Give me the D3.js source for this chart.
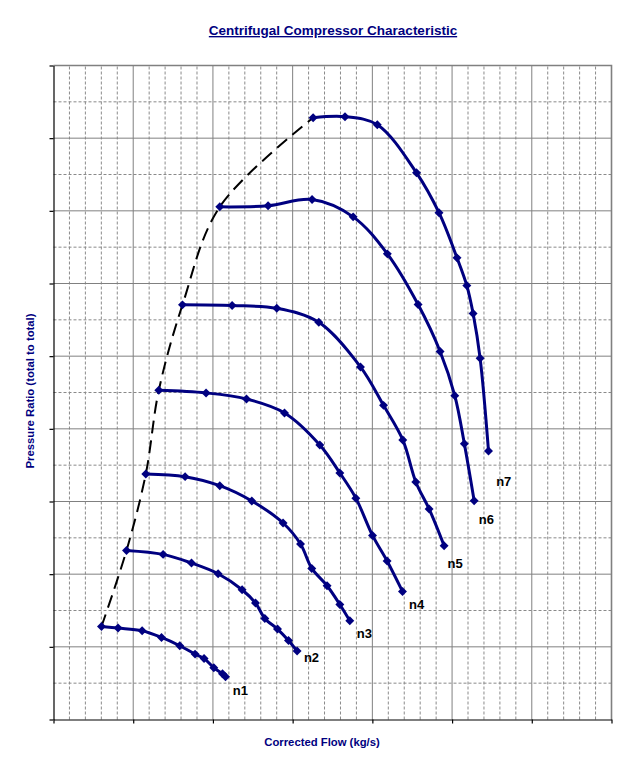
<!DOCTYPE html>
<html>
<head>
<meta charset="utf-8">
<script src="https://cdnjs.cloudflare.com/ajax/libs/d3/7.8.5/d3.min.js"></script>
<style>
  body { margin: 0; background: #fff; }
  text { font-family: Arial, "Liberation Sans", sans-serif; }
</style>
</head>
<body>
<div id="chart"></div>
<script>

// speed lines, flow (kg/s) and pressure ratio
var speedNames = ["n1", "n2", "n3", "n4", "n5", "n6", "n7"];

var n1Flow  = [0.602, 0.810, 1.112, 1.355, 1.584, 1.776, 1.889, 2.011, 2.120, 2.158];
var n1Ratio = [1.280, 1.258, 1.221, 1.129, 1.015, 0.900, 0.840, 0.712, 0.629, 0.588];

var n2Flow  = [0.916, 1.375, 1.731, 2.065, 2.366, 2.534, 2.651, 2.810, 2.948, 3.056];
var n2Ratio = [2.327, 2.272, 2.153, 2.006, 1.786, 1.603, 1.391, 1.245, 1.088, 0.942];

var n3Flow  = [1.158, 1.651, 2.086, 2.488, 2.880, 3.099, 3.240, 3.432, 3.592, 3.717];
var n3Ratio = [3.379, 3.342, 3.218, 3.007, 2.704, 2.415, 2.079, 1.841, 1.583, 1.359];

var n4Flow  = [1.321, 1.914, 2.421, 2.898, 3.341, 3.592, 3.793, 4.002, 4.185, 4.378];
var n4Ratio = [4.530, 4.494, 4.411, 4.219, 3.778, 3.393, 3.046, 2.533, 2.181, 1.762];

var n5Flow  = [1.618, 2.241, 2.801, 3.328, 3.851, 4.140, 4.382, 4.545, 4.712, 4.900];
var n5Ratio = [5.706, 5.696, 5.659, 5.466, 4.852, 4.323, 3.847, 3.269, 2.897, 2.392];

var n6Flow  = [2.086, 2.692, 3.244, 3.759, 4.188, 4.574, 4.850, 5.034, 5.154, 5.277];
var n6Ratio = [7.055, 7.069, 7.155, 6.917, 6.408, 5.710, 5.065, 4.457, 3.796, 3.011];

var n7Flow  = [3.257, 3.657, 4.062, 4.554, 4.836, 5.062, 5.185, 5.264, 5.352, 5.457];
var n7Ratio = [8.280, 8.295, 8.185, 7.523, 6.974, 6.353, 5.971, 5.586, 4.970, 3.695];

// where the n-labels sit (flow, ratio)
var labelFlow  = [2.249, 3.141, 3.805, 4.461, 4.943, 5.336, 5.553];
var labelRatio = [0.409, 0.863, 1.194, 1.593, 2.153, 2.759, 3.287];

var xDomain = [0, 7];
var yDomain = [0, 9];

var W = 630, H = 766;
var margin = {top: 65.5, right: 18.5, bottom: 46.5, left: 53.5};
var navy = "#000080";

var flows = [n1Flow, n2Flow, n3Flow, n4Flow, n5Flow, n6Flow, n7Flow];
var ratios = [n1Ratio, n2Ratio, n3Ratio, n4Ratio, n5Ratio, n6Ratio, n7Ratio];

var series = speedNames.map(function(name, i) {
    return {
        name: name,
        points: flows[i].map(function(f, j) { return {flow: f, ratio: ratios[i][j]}; }),
        label: {flow: labelFlow[i], ratio: labelRatio[i]}
    };
});

// surge line joins the first point of every speed line
var surge = series.map(function(s) { return s.points[0]; });

var svg = d3.select("#chart").append("svg")
    .attr("width", W)
    .attr("height", H);

var x = d3.scaleLinear()
    .domain(xDomain)
    .range([margin.left, W - margin.right]);

var y = d3.scaleLinear()
    .domain(yDomain)
    .range([H - margin.bottom, margin.top]);

// title
svg.append("text")
    .attr("x", 333)
    .attr("y", 35)
    .attr("text-anchor", "middle")
    .style("font-size", "13.5px")
    .style("font-weight", "bold")
    .style("text-decoration", "underline")
    .attr("fill", navy)
    .text("Centrifugal Compressor Characteristic ");

// grid
var grid = svg.append("g");
var xMinor = d3.range(xDomain[0], xDomain[1] + 0.001, 0.2).filter(function(v) { return Math.abs(v - Math.round(v)) > 0.01; });
var xMajor = d3.range(xDomain[0] + 1, xDomain[1], 1);
var yMinor = d3.range(yDomain[0] + 0.5, yDomain[1], 1);
var yMajor = d3.range(yDomain[0] + 1, yDomain[1], 1);

grid.selectAll(".vminor").data(xMinor).enter().append("line")
    .attr("x1", x).attr("x2", x)
    .attr("y1", y(yDomain[0])).attr("y2", y(yDomain[1]))
    .attr("stroke", "#8a8a8a").attr("stroke-dasharray", "3,2");

grid.selectAll(".hminor").data(yMinor).enter().append("line")
    .attr("x1", x(xDomain[0])).attr("x2", x(xDomain[1]))
    .attr("y1", y).attr("y2", y)
    .attr("stroke", "#8a8a8a").attr("stroke-dasharray", "3,2");

grid.selectAll(".vmajor").data(xMajor).enter().append("line")
    .attr("x1", x).attr("x2", x)
    .attr("y1", y(yDomain[0])).attr("y2", y(yDomain[1]))
    .attr("stroke", "#808080");

grid.selectAll(".hmajor").data(yMajor).enter().append("line")
    .attr("x1", x(xDomain[0])).attr("x2", x(xDomain[1]))
    .attr("y1", y).attr("y2", y)
    .attr("stroke", "#808080");

// plot area border (top, right)
grid.append("path")
    .attr("d", "M" + x(xDomain[0]) + "," + y(yDomain[1]) + "H" + x(xDomain[1]) + "V" + y(yDomain[0]))
    .attr("fill", "none")
    .attr("stroke", "#808080")
    .attr("stroke-width", 1.6);

// axes, no tick labels
var xAxis = svg.append("g")
    .attr("transform", "translate(0," + y(yDomain[0]) + ")")
    .call(d3.axisBottom(x).tickValues(d3.range(xDomain[0], xDomain[1] + 1, 1)).tickSize(4).tickSizeOuter(0).tickFormat(""));

var yAxis = svg.append("g")
    .attr("transform", "translate(" + x(xDomain[0]) + ",0)")
    .call(d3.axisLeft(y).tickValues(d3.range(yDomain[0], yDomain[1] + 1, 1)).tickSize(4).tickSizeOuter(0).tickFormat(""));

svg.selectAll(".domain, .tick line").attr("stroke", "#000").attr("stroke-width", 1.2);

svg.append("text")
    .attr("transform", "translate(34,391) rotate(-90)")
    .attr("text-anchor", "middle")
    .style("font-size", "11.3px")
    .style("font-weight", "bold")
    .attr("fill", navy)
    .text("Pressure Ratio (total to total)");

svg.append("text")
    .attr("x", 322)
    .attr("y", 746)
    .attr("text-anchor", "middle")
    .style("font-size", "11.3px")
    .style("font-weight", "bold")
    .attr("fill", navy)
    .text("Corrected Flow (kg/s)");

var line = d3.line()
    .x(function(d) { return x(d.flow); })
    .y(function(d) { return y(d.ratio); })
    .curve(d3.curveCatmullRom.alpha(0.5));

// surge line
svg.append("path")
    .datum(surge)
    .attr("d", line)
    .attr("fill", "none")
    .attr("stroke", "#000")
    .attr("stroke-width", 2)
    .attr("stroke-dasharray", "13,7");

var speed = svg.selectAll(".speed")
    .data(series)
    .enter()
    .append("g")
    .attr("class", "speed");

speed.append("path")
    .attr("d", function(d) { return line(d.points); })
    .attr("fill", "none")
    .attr("stroke", navy)
    .attr("stroke-width", 3);

var marker = d3.symbol().type(d3.symbolSquare).size(40);

speed.selectAll(".pt")
    .data(function(d) { return d.points; })
    .enter()
    .append("path")
    .attr("d", marker)
    .attr("transform", function(d) { return "translate(" + x(d.flow) + "," + y(d.ratio) + ") rotate(45)"; })
    .attr("fill", navy);

speed.append("text")
    .attr("x", function(d) { return x(d.label.flow); })
    .attr("y", function(d) { return y(d.label.ratio) + 5; })
    .style("font-size", "13px")
    .style("font-weight", "bold")
    .attr("fill", "#000")
    .text(function(d) { return d.name; });

</script>
</body>
</html>
